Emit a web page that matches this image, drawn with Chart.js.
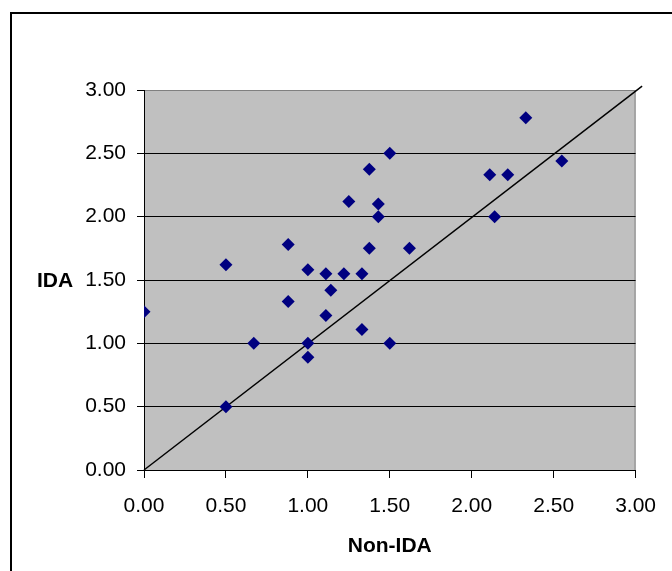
<!DOCTYPE html>
<html>
<head>
<meta charset="utf-8">
<script src="https://cdn.jsdelivr.net/npm/chart.js@4/dist/chart.umd.min.js"></script>
<style>
  html, body { margin: 0; padding: 0; background: #fff; }
  #wrap { width: 672px; height: 571px; position: relative; }
</style>
</head>
<body>
<div id="wrap"><canvas id="chart"></canvas></div>
<script>
// Non-IDA (x) vs IDA (y) scores
const nonIda = [0, 0.5, 0.5, 0.67, 0.88, 0.88, 1.0, 1.0, 1.0, 1.11, 1.11, 1.14, 1.22, 1.25,
                1.33, 1.33, 1.375, 1.375, 1.43, 1.43, 1.5, 1.5, 1.62, 2.11, 2.14, 2.22, 2.33, 2.55];
const ida    = [1.25, 0.5, 1.62, 1.0, 1.33, 1.78, 0.89, 1.0, 1.58, 1.22, 1.55, 1.42, 1.55, 2.12,
                1.11, 1.55, 1.75, 2.375, 2.10, 2.0, 1.0, 2.5, 1.75, 2.33, 2.0, 2.33, 2.78, 2.44];
const diagX = [0, 3.04];
const diagY = [0, 3.03];
const tickValues = [0, 0.5, 1, 1.5, 2, 2.5, 3];

const FONT = "'Liberation Sans', Arial, sans-serif";

const frame = {
    id: 'frame',
    beforeDraw(chart) {
        const ctx = chart.ctx;
        const a = chart.chartArea;
        ctx.save();
        ctx.fillStyle = '#fff';
        ctx.fillRect(0, 0, chart.width, chart.height);
        ctx.strokeStyle = '#000';
        ctx.lineWidth = 2;
        ctx.strokeRect(11, 13, 700, 620);
        ctx.fillStyle = '#c0c0c0';
        ctx.fillRect(a.left, a.top, a.right - a.left, a.bottom - a.top);
        ctx.strokeStyle = '#808080';
        ctx.lineWidth = 1;
        ctx.beginPath();
        ctx.moveTo(a.left, a.top + 0.5);
        ctx.lineTo(a.right - 0.5, a.top + 0.5);
        ctx.lineTo(a.right - 0.5, a.bottom);
        ctx.stroke();
        // y axis title, drawn horizontally like the original
        ctx.fillStyle = '#000';
        ctx.font = 'bold 21px ' + FONT;
        ctx.textAlign = 'center';
        ctx.textBaseline = 'middle';
        ctx.fillText('IDA', 55, 281);
        ctx.restore();
    }
};

const ctx = document.getElementById('chart').getContext('2d');
new Chart(ctx, {
    data: {
        datasets: [{
            type: 'scatter',
            data: nonIda.map((x, i) => ({ x: x, y: ida[i] })),
            pointStyle: 'rectRot',
            pointRadius: 6.5,
            backgroundColor: '#000080',
            borderColor: '#000080',
            borderWidth: 0
        }, {
            type: 'line',
            data: diagX.map((x, i) => ({ x: x, y: diagY[i] })),
            borderColor: '#000',
            borderWidth: 1.5,
            pointRadius: 0,
            clip: false
        }]
    },
    options: {
        responsive: true,
        maintainAspectRatio: false,
        animation: false,
        layout: { padding: { left: 0, top: 90, right: 33, bottom: 0 } },
        plugins: {
            legend: { display: false },
            tooltip: { enabled: false }
        },
        scales: {
            x: {
                type: 'linear',
                min: 0,
                max: 3,
                afterFit: function (scale) { scale.height = 101; },
                afterBuildTicks: function (scale) { scale.ticks = tickValues.map(v => ({ value: v })); },
                grid: { drawOnChartArea: false, tickLength: 8, tickColor: '#000' },
                border: { color: '#000', width: 1 },
                ticks: {
                    color: '#000',
                    padding: 16,
                    font: { family: FONT, size: 21 },
                    callback: v => Number(v).toFixed(2)
                },
                title: {
                    display: true,
                    text: 'Non-IDA',
                    color: '#000',
                    font: { family: FONT, size: 21, weight: 'bold' },
                    padding: { top: 0, bottom: 12 }
                }
            },
            y: {
                type: 'linear',
                min: 0,
                max: 3,
                afterFit: function (scale) { scale.width = 144; },
                afterBuildTicks: function (scale) { scale.ticks = tickValues.map(v => ({ value: v })); },
                grid: {
                    tickLength: 7,
                    tickColor: '#000',
                    color: c => (c.tick && c.tick.value === 3) ? '#808080' : (c.tick && c.tick.value === 0 ? 'rgba(0,0,0,0)' : '#000')
                },
                border: { color: '#000', width: 1 },
                ticks: {
                    color: '#000',
                    padding: 11,
                    font: { family: FONT, size: 21 },
                    callback: v => Number(v).toFixed(2)
                }
            }
        }
    },
    plugins: [frame]
});
</script>
</body>
</html>
